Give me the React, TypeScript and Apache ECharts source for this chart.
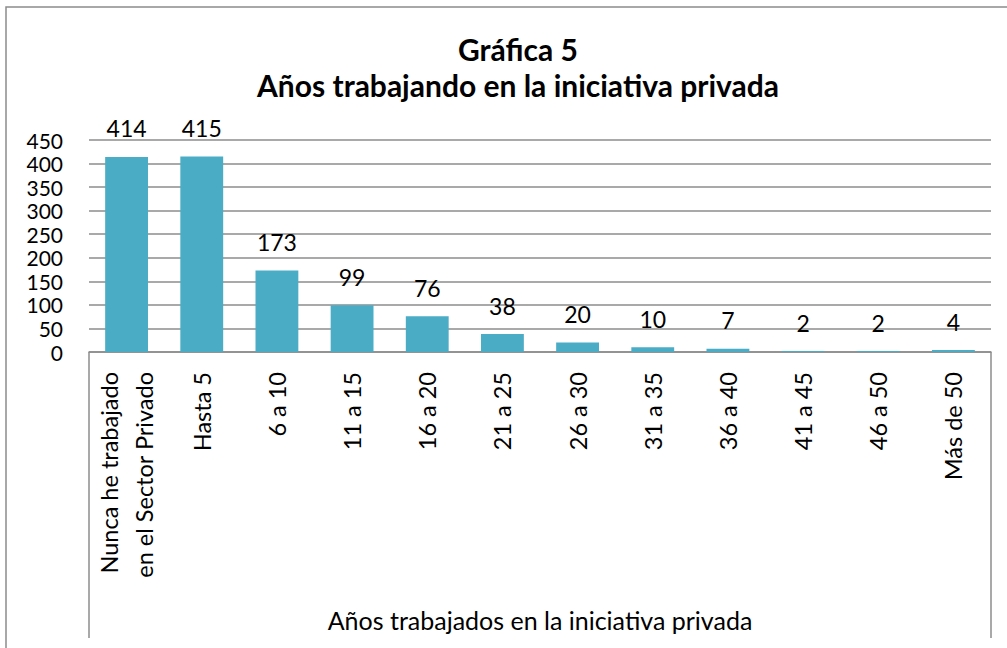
import React, { useEffect, useRef } from "react";
import * as echarts from "echarts";

const categories: string[] = [
  "Nunca he trabajado\nen el Sector Privado",
  "Hasta 5",
  "6 a 10",
  "11 a 15",
  "16 a 20",
  "21 a 25",
  "26 a 30",
  "31 a 35",
  "36 a 40",
  "41 a 45",
  "46 a 50",
  "Más de 50",
];
const values: number[] = [414, 415, 173, 99, 76, 38, 20, 10, 7, 2, 2, 4];
const titleLines: string[] = ["Gráfica 5", "Años trabajando en la iniciativa privada"];
const xAxisName = "Años trabajados en la iniciativa privada";

const FONT = "Lato";

export default function App() {
  const ref = useRef<HTMLDivElement>(null);
  useEffect(() => {
    if (!ref.current) return;
    const chart = echarts.init(ref.current, null, { renderer: "svg" });
    chart.setOption({
      animation: false,
      backgroundColor: "#ffffff",
      textStyle: { fontFamily: FONT },
      title: {
        text: titleLines.join("\n"),
        left: 513,
        top: 26,
        textAlign: "center",
        textStyle: {
          fontFamily: FONT,
          fontWeight: "bold",
          fontSize: 30,
          lineHeight: 36,
          color: "#000",
        },
      },
      grid: { left: 89, right: 16, top: 140, bottom: 296, containLabel: false },
      xAxis: {
        type: "category",
        data: categories,
        axisLine: { show: true, lineStyle: { color: "#8c8c8c", width: 1.5 } },
        axisTick: { show: false },
        axisLabel: {
          interval: 0,
          rotate: 90,
          margin: 20,
          fontSize: 23.5,
          lineHeight: 35,
          color: "#000",
          fontFamily: FONT,
        },
        name: xAxisName,
        nameLocation: "middle",
        nameGap: 255,
        nameTextStyle: { fontSize: 25, color: "#000", fontFamily: FONT },
      },
      yAxis: {
        type: "value",
        min: 0,
        max: 450,
        interval: 50,
        axisLine: { show: false },
        axisTick: { show: false },
        axisLabel: {
          fontSize: 21,
          lineHeight: 21,
          color: "#000",
          margin: 26,
          fontFamily: FONT,
        },
        splitLine: { lineStyle: { color: "#8c8c8c", width: 1.5 } },
      },
      series: [
        {
          type: "bar",
          data: values,
          barCategoryGap: "43%",
          itemStyle: { color: "#4bacc6" },
          label: {
            show: true,
            position: "top",
            distance: 17,
            fontSize: 23,
            color: "#000",
            fontFamily: FONT,
          },
        },
      ],
      graphic: [
        {
          type: "polyline",
          shape: { points: [[6, 648], [6, 7], [1007, 7]] },
          style: { stroke: "#8c8c8c", lineWidth: 1.5, fill: "none" },
        },
        {
          type: "line",
          shape: { x1: 89, y1: 352, x2: 89, y2: 638 },
          style: { stroke: "#8c8c8c", lineWidth: 1.5 },
        },
        {
          type: "line",
          shape: { x1: 991, y1: 352, x2: 991, y2: 638 },
          style: { stroke: "#8c8c8c", lineWidth: 1.5 },
        },
      ],
    });
    return () => chart.dispose();
  }, []);
  return (
    <div
      ref={ref}
      style={{ position: "absolute", left: 0, top: 0, width: 1007, height: 648 }}
    />
  );
}
